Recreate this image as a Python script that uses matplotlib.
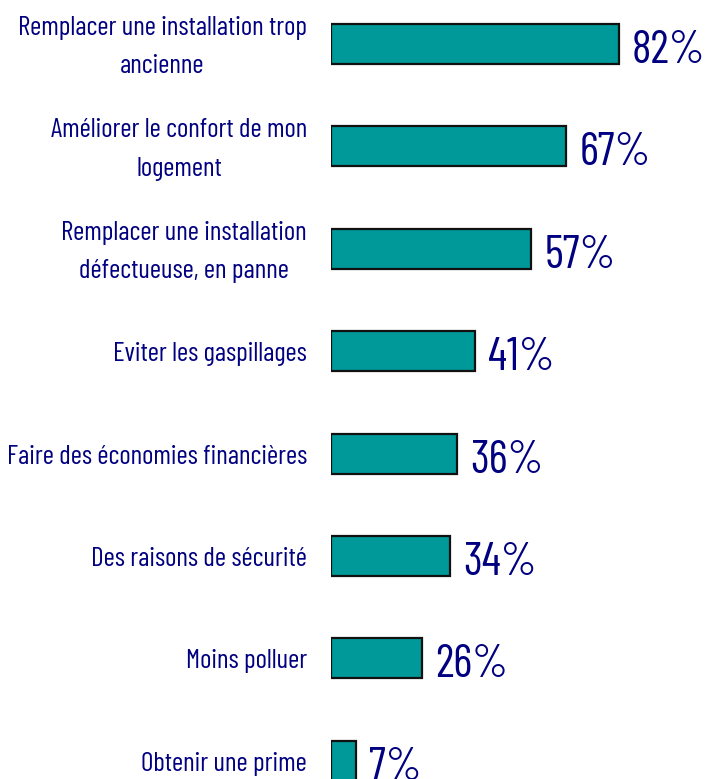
import matplotlib
matplotlib.use('Agg')
import matplotlib.pyplot as plt

# Data
labels = [
    'Remplacer une installation trop\nancienne',
    'Améliorer le confort de mon\nlogement',
    'Remplacer une installation\ndéfectueuse, en panne',
    'Eviter les gaspillages',
    'Faire des économies financières',
    'Des raisons de sécurité',
    'Moins polluer',
    'Obtenir une prime',
]
values = [82, 67, 57, 41, 36, 34, 26, 7]

plt.rcParams['font.family'] = ['Barlow Condensed', 'DejaVu Sans Condensed', 'DejaVu Sans']

W, H = 706, 779
fig = plt.figure(figsize=(W / 100, H / 100), dpi=100)
ax = fig.add_axes([331 / W, 0, (W - 331) / W, 1])

pos = list(range(len(values)))
ax.barh(pos, values, height=0.39, color='#009999', edgecolor='#111111', linewidth=1.6, align='center')
ax.set_xlim(0, 375 / 3.512)
ax.set_ylim((779 - 44) / 102.4, -44 / 102.4)
ax.axis('off')

navy = '#000080'
for p, v, lab in zip(pos, values, labels):
    ax.annotate(f'{v}%', xy=(v, p), xytext=(13, -19), textcoords='offset pixels',
                va='baseline', ha='left', fontsize=33, fontweight='normal',
                color=navy, annotation_clip=False)
    ax.annotate(lab, xy=(0, p), xytext=(-24, -3), textcoords='offset pixels',
                va='center', ha='right', multialignment='center',
                fontsize=19.5, color=navy, linespacing=1.75, annotation_clip=False)

fig.savefig('out.png', dpi=100)
